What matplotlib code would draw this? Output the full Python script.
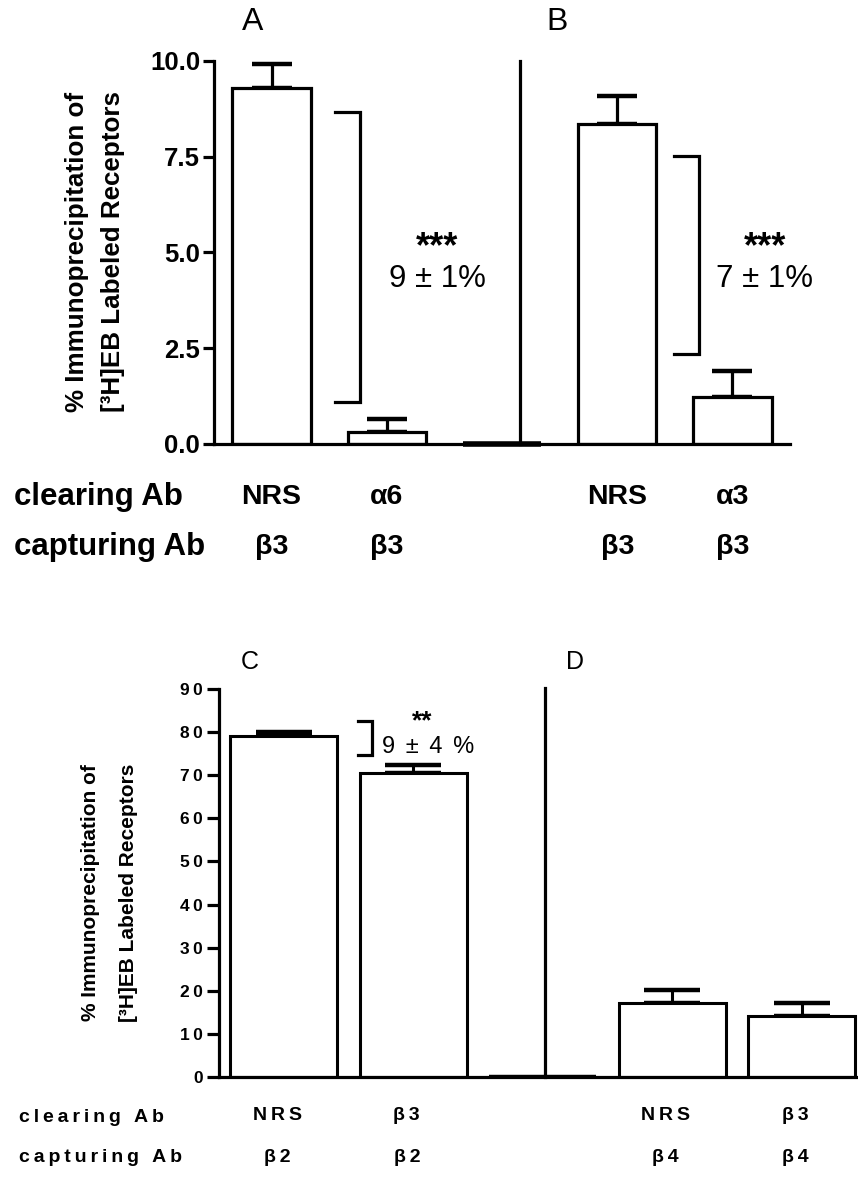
import matplotlib
matplotlib.use('Agg')
import matplotlib.pyplot as plt
from matplotlib.transforms import blended_transform_factory

plt.rcParams['font.family'] = ['Liberation Sans', 'DejaVu Sans']

W, H = 858, 1177

# ---------------- data: top panel (A, B) ----------------
top_positions = [0, 1, 2, 3, 4]
top_clearing = ['NRS', 'α6', '', 'NRS', 'α3']
top_capturing = ['β3', 'β3', '', 'β3', 'β3']
top_values = [9.29, 0.31, 0.0, 8.36, 1.23]
top_err = [0.63, 0.34, 0.0, 0.73, 0.68]
top_yticks = [0.0, 2.5, 5.0, 7.5, 10.0]
top_yticklabels = ['0.0', '2.5', '5.0', '7.5', '10.0']
top_bracket_lo = [1.1, 2.35]
top_bracket_hi = [8.67, 7.52]
top_stars = ['***', '***']
top_pct = ['9 ± 1%', '7 ± 1%']

# ---------------- data: bottom panel (C, D) ----------------
bot_positions = [0, 1, 2, 3, 4]
bot_clearing = ['NRS', 'β3', '', 'NRS', 'β3']
bot_capturing = ['β2', 'β2', '', 'β4', 'β4']
bot_values = [79.1, 70.5, 0.0, 17.2, 14.2]
bot_err = [0.9, 1.9, 0.0, 3.0, 3.0]
bot_yticks = [0, 10, 20, 30, 40, 50, 60, 70, 80, 90]
bot_bracket_lo = 74.6
bot_bracket_hi = 82.5
bot_stars = '**'
bot_pct = '9 ± 4 %'

ylabel1 = '% Immunoprecipitation of'
ylabel2 = '[³H]EB Labeled Receptors'


def fx(px):
    return px / W


def fy(py):
    return 1 - py / H


def spaced(s, sep='\u2009'):
    return sep.join(s)


fig = plt.figure(figsize=(W / 100, H / 100), dpi=100)

# ============ top panel ============
ax1 = fig.add_axes([fx(214), fy(444), 576 / W, 383 / H])
ax1.set_xlim(-0.5, 4.5)
ax1.set_ylim(0, 10)
ax1.bar(top_positions, top_values, width=0.68, color='white',
        edgecolor='black', linewidth=2.3, zorder=2)
ex = [p for p, e in zip(top_positions, top_err) if e > 0]
ev = [v for v, e in zip(top_values, top_err) if e > 0]
ee = [e for e in top_err if e > 0]
ax1.errorbar(ex, ev, yerr=[[0] * len(ee), ee], fmt='none', ecolor='black',
             elinewidth=2.3, capsize=14.5, capthick=3.2, zorder=1)
# thick zero bar
ax1.plot([2 - 0.34, 2 + 0.34], [0, 0], color='black', lw=4,
         solid_capstyle='butt', clip_on=False, zorder=3)
# divider
ax1.plot([2.16, 2.16], [0, 10], color='black', lw=2.3, clip_on=False, zorder=3)

for sp in ['top', 'right']:
    ax1.spines[sp].set_visible(False)
for sp in ['left', 'bottom']:
    ax1.spines[sp].set_linewidth(2.3)
ax1.set_xticks([])
ax1.set_yticks(top_yticks)
ax1.set_yticklabels(top_yticklabels)
ax1.tick_params(axis='y', direction='out', length=8, width=2.3, labelsize=18.5, pad=2)
for lab in ax1.get_yticklabels():
    lab.set_fontweight('bold')

# brackets
for xv, lo, hi, st, pc in zip([0.77, 3.71], top_bracket_lo, top_bracket_hi,
                              top_stars, top_pct):
    ax1.plot([xv - 0.22, xv, xv, xv - 0.22], [lo, lo, hi, hi], color='black',
             lw=2.3, solid_joinstyle='miter', clip_on=False)
    xt = xv + 0.67 if xv < 2 else xv + 0.57
    ax1.text(xt, 5.12, st, fontsize=26, fontweight='bold', ha='center', va='center')
    ax1.text(xt, 4.3, pc, fontsize=22.5, ha='center', va='center')

fig.text(fx(253), fy(22), 'A', fontsize=23, ha='center', va='center')
fig.text(fx(557), fy(22), 'B', fontsize=23, ha='center', va='center')

fig.text(fx(77), fy(252), ylabel1, rotation=90, fontsize=18.7, fontweight='bold',
         ha='center', va='center')
fig.text(fx(113), fy(252), ylabel2, rotation=90, fontsize=18.7, fontweight='bold',
         ha='center', va='center')

tr1 = blended_transform_factory(ax1.transData, fig.transFigure)
fig.text(fx(14), fy(497), 'clearing Ab', fontsize=22.5, fontweight='bold',
         ha='left', va='center')
fig.text(fx(14), fy(547), 'capturing Ab', fontsize=22.5, fontweight='bold',
         ha='left', va='center')
for p, c1, c2 in zip(top_positions, top_clearing, top_capturing):
    ax1.text(p, fy(497), c1, transform=tr1, fontsize=20.5, fontweight='bold',
             ha='center', va='center')
    ax1.text(p, fy(547), c2, transform=tr1, fontsize=20.5, fontweight='bold',
             ha='center', va='center')

# ============ bottom panel ============
ax2 = fig.add_axes([fx(219), fy(1077), 647.5 / W, 388 / H])
ax2.set_xlim(-0.5, 4.5)
ax2.set_ylim(0, 90)
ax2.bar(bot_positions, bot_values, width=0.83, color='white',
        edgecolor='black', linewidth=2.2, zorder=2)
ex = [p for p, e in zip(bot_positions, bot_err) if e > 0]
ev = [v for v, e in zip(bot_values, bot_err) if e > 0]
ee = [e for e in bot_err if e > 0]
ax2.errorbar(ex, ev, yerr=[[0] * len(ee), ee], fmt='none', ecolor='black',
             elinewidth=2.2, capsize=20, capthick=3.2, zorder=1)
ax2.plot([2 - 0.415, 2 + 0.415], [0, 0], color='black', lw=3.2,
         solid_capstyle='butt', zorder=3)
ax2.plot([2.02, 2.02], [0, 90.3], color='black', lw=2.3, clip_on=False, zorder=3)

for sp in ['top', 'right']:
    ax2.spines[sp].set_visible(False)
for sp in ['left', 'bottom']:
    ax2.spines[sp].set_linewidth(2.3)
ax2.set_xticks([])
ax2.set_yticks(bot_yticks)
ax2.set_yticklabels([spaced(str(t)) for t in bot_yticks])
ax2.tick_params(axis='y', direction='out', length=8.5, width=2.3, labelsize=12.5, pad=3)
for lab in ax2.get_yticklabels():
    lab.set_fontweight('bold')

xv = 0.68
ax2.plot([xv - 0.11, xv, xv, xv - 0.11], [bot_bracket_lo, bot_bracket_lo,
                                          bot_bracket_hi, bot_bracket_hi],
         color='black', lw=2.3, solid_joinstyle='miter')
ax2.text(0.76, 76.6, spaced(bot_pct, '\u200a'), fontsize=17, ha='left', va='center')
ax2.text(1.07, 82.4, bot_stars, fontsize=19, fontweight='bold', ha='center', va='center')

fig.text(fx(250), fy(662), 'C', fontsize=18, ha='center', va='center')
fig.text(fx(575), fy(662), 'D', fontsize=18, ha='center', va='center')

fig.text(fx(91), fy(893), ylabel1, rotation=90, fontsize=15, fontweight='bold',
         ha='center', va='center')
fig.text(fx(128), fy(893), ylabel2, rotation=90, fontsize=15, fontweight='bold',
         ha='center', va='center')

tr2 = blended_transform_factory(ax2.transData, fig.transFigure)
fig.text(fx(19), fy(1118), spaced('clearing Ab'), fontsize=14, fontweight='bold',
         ha='left', va='center')
fig.text(fx(19), fy(1158), spaced('capturing Ab'), fontsize=14, fontweight='bold',
         ha='left', va='center')
for p, c1, c2 in zip(bot_positions, bot_clearing, bot_capturing):
    ax2.text(p - 0.05, fy(1116), spaced(c1), transform=tr2, fontsize=14,
             fontweight='bold', ha='center', va='center')
    ax2.text(p - 0.05, fy(1158), spaced(c2), transform=tr2, fontsize=14,
             fontweight='bold', ha='center', va='center')

fig.savefig('out.png', dpi=100)
